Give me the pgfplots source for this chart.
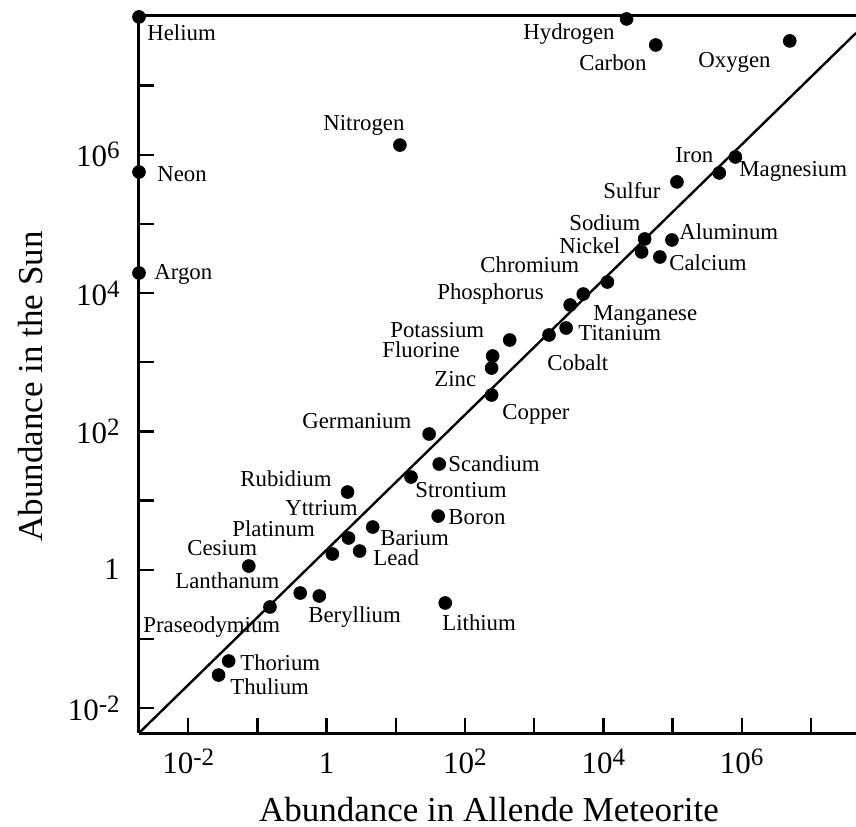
\documentclass[border=0pt]{standalone}
\usepackage{pgfplots}
\pgfplotsset{compat=1.18}
\usepackage{pgfplotstable}
\usepackage{fontspec}
\setmainfont{Liberation Serif}

\pgfplotstableread{
x y name
1.945e-3 9.82e7 Helium
2.17e4 9.18e7 Hydrogen
5.73e4 3.86e7 Carbon
4.95e6 4.42e7 Oxygen
11.48 1.38e6 Nitrogen
1.945e-3 5.62e5 Neon
1.945e-3 1.95e4 Argon
8.11e5 9.27e5 Magnesium
4.74e5 5.45e5 Iron
1.16e5 4.04e5 Sulfur
3.96e4 6.05e4 Sodium
3.58e4 3.93e4 Nickel
9.80e4 5.85e4 Aluminum
6.56e4 3.32e4 Calcium
1.146e4 1.445e4 Chromium
5129 9680 Phosphorus
3319 6714 Manganese
2897 3126 Titanium
1641 2477 Cobalt
443.6 2094 Potassium
251.2 1230 Fluorine
242.7 824.1 Zinc
242.7 335.7 Copper
30.34 91.62 Germanium
42.46 33.73 Scandium
16.60 21.88 Strontium
2.009 13.27 Rubidium
41.02 5.970 Boron
4.645 4.140 Barium
2.075 2.871 Yttrium
3.006 1.862 Lead
1.213 1.687 Platinum
0.07516 1.130 Cesium
0.4159 0.4603 Lanthanum
0.7852 0.4169 Beryllium
0.1521 0.2891 Praseodymium
51.88 0.3304 Lithium
0.03846 0.04786 Thorium
0.02748 0.03000 Thulium
}\abund

\newcommand{\tl}[1]{10\raisebox{4pt}{\fontsize{12.5}{13}\selectfont #1}}

\begin{document}
\begin{tikzpicture}
\begin{axis}[
  name=ax, scale only axis, width=358.5pt, height=359pt,
  xmode=log, ymode=log,
  xmin=1.945e-3, xmax=4.487e7, ymin=4.355e-3, ymax=1.047e8,
  axis x line*=bottom, axis y line*=left,
  axis line style={-, line width=1.5pt, black},
  tick align=inside,
  major tick length=7.5pt,
  tick style={black, line width=1.2pt},
  minor tick style={draw=none},
  xtick={1e-2,1e-1,1,1e1,1e2,1e3,1e4,1e5,1e6,1e7},
  xticklabels={\tl{-2},,1,,\tl{2},,\tl{4},,\tl{6},},
  ytick={1e-2,1e-1,1,1e1,1e2,1e3,1e4,1e5,1e6,1e7},
  yticklabels={\tl{-2},,1,,\tl{2},,\tl{4},,\tl{6},},
  ticklabel style={font=\fontsize{15.5}{17}\selectfont},
  xticklabel style={anchor=base, inner sep=0pt, yshift=-20pt},
  yticklabel style={anchor=east, inner sep=0pt, xshift=-9.5pt},
  xlabel={Abundance in Allende Meteorite},
  ylabel={Abundance in the Sun},
  xlabel style={font=\fontsize{17.5}{19}\selectfont, at={(axis description cs:0.488,0)}, anchor=base, yshift=-44pt},
  ylabel style={font=\fontsize{17.5}{19}\selectfont, at={(axis description cs:-0.1339,0.4826)}, anchor=base},
  clip=false,
]
\addplot[black, line width=1.2pt] coordinates {(1.945e-3,4.355e-3) (4.487e7,5.75e7)};
\addplot[only marks, mark=*, mark size=3.2pt, black] table[x=x,y=y] {\abund};
\draw[line width=1.5pt] (rel axis cs:0,1) -- (rel axis cs:1,1);
\end{axis}
\begin{scope}[shift={([xshift=-69.5pt,yshift=7.5pt]ax.north west)}, x=0.5pt, y=-0.5pt,
  every node/.style={anchor=base west, inner sep=0pt, font=\fontsize{11.4}{13}\selectfont}]
\node at (147,40.5) {Helium};
\node at (157,181.5) {Neon};
\node at (154,279.5) {Argon};
\node at (323,130.5) {Nitrogen};
\node at (523,39.5) {Hydrogen};
\node at (579,70.5) {Carbon};
\node at (698,67.5) {Oxygen};
\node at (675,162.5) {Iron};
\node at (739,176.5) {Magnesium};
\node at (603,198.5) {Sulfur};
\node at (569,230.5) {Sodium};
\node at (559,253.5) {Nickel};
\node at (679,239.5) {Aluminum};
\node at (669,270.5) {Calcium};
\node at (480,272.5) {Chromium};
\node at (437,299.5) {Phosphorus};
\node at (593,320.5) {Manganese};
\node at (578,340.5) {Titanium};
\node at (547,370.5) {Cobalt};
\node at (390,337.5) {Potassium};
\node at (382,357.5) {Fluorine};
\node at (434,386.5) {Zinc};
\node at (502,419.5) {Copper};
\node at (302,428.5) {Germanium};
\node at (448,471.5) {Scandium};
\node at (415,497.5) {Strontium};
\node at (448,524.5) {Boron};
\node at (380,545.5) {Barium};
\node at (373,565.5) {Lead};
\node at (240,486.5) {Rubidium};
\node at (285,515.5) {Yttrium};
\node at (232,536.5) {Platinum};
\node at (187,555.5) {Cesium};
\node at (175,588.5) {Lanthanum};
\node at (143,632.5) {Praseodymium};
\node at (308,622.5) {Beryllium};
\node at (240,670.5) {Thorium};
\node at (230,694.5) {Thulium};
\node at (442,630.5) {Lithium};
\end{scope}
\pgfresetboundingbox
\path[use as bounding box] ([xshift=-69.5pt,yshift=7.5pt]ax.north west) rectangle ([yshift=-46.5pt]ax.south east);
\end{tikzpicture}
\end{document}
